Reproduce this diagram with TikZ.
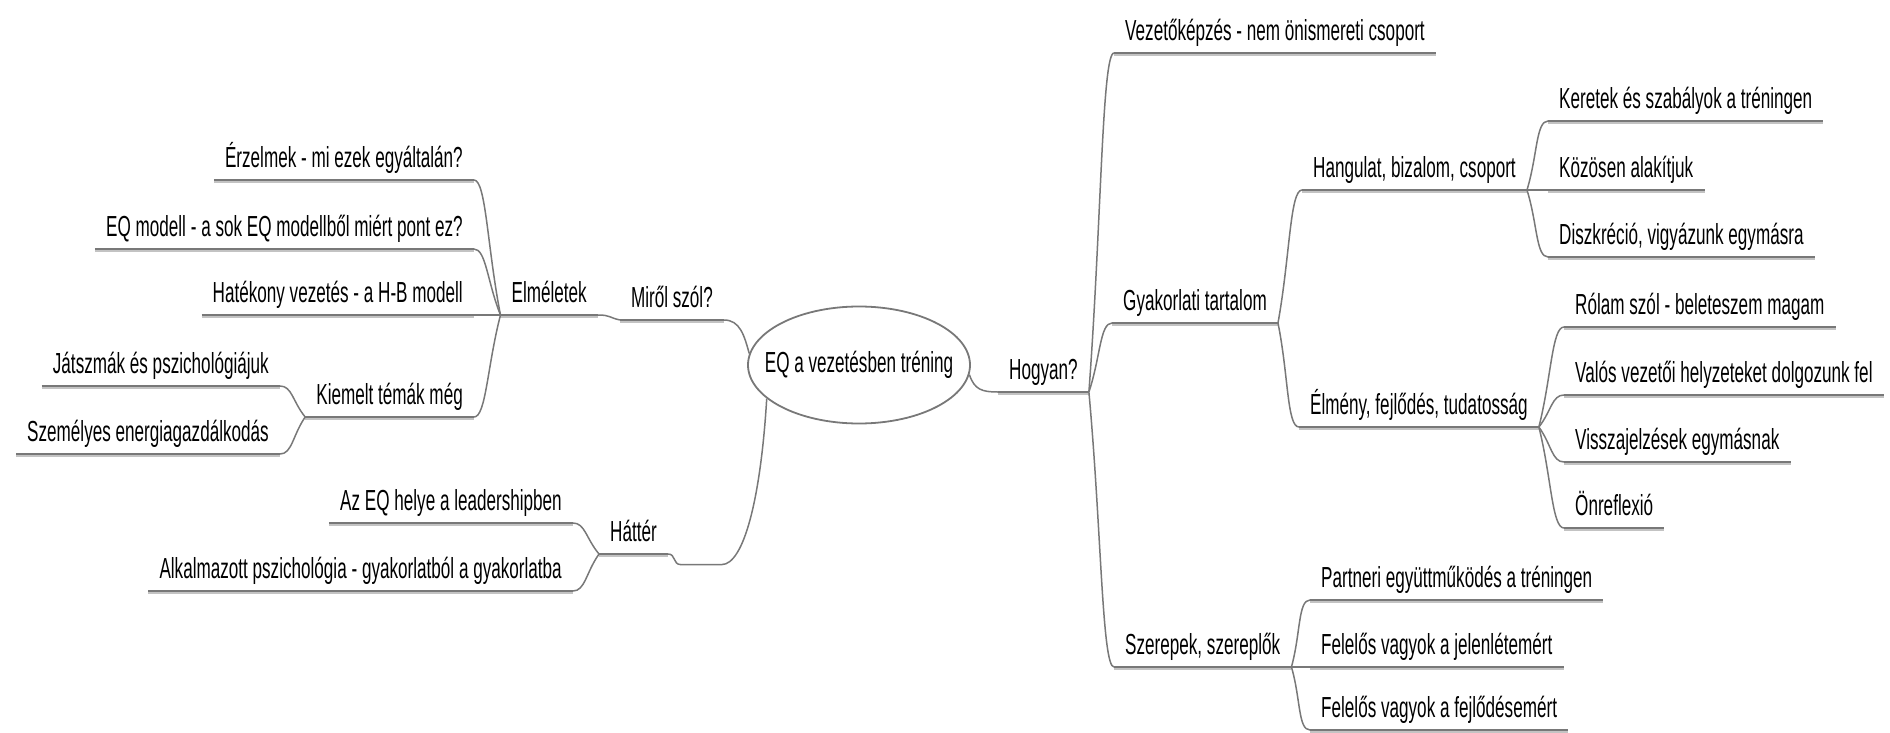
\documentclass[tikz,border=0pt]{standalone}
\usepackage{fontspec}
\setmainfont[FakeStretch=0.59]{Liberation Sans}
\usetikzlibrary{shapes.geometric,calc}
\definecolor{mapgray}{RGB}{120,120,120}
\definecolor{mapshade}{RGB}{195,195,195}

\begin{document}
\begin{tikzpicture}[x=1pt,y=-1pt,
    topic/.style={inner xsep=11pt, inner ysep=6.5pt, text height=21pt, text depth=6pt,
        font=\fontsize{29}{33}\selectfont},
    rtopic/.style={topic, anchor=south west},
    ltopic/.style={topic, anchor=south east},
    conn/.style={draw=mapgray, line width=1.5pt},
    rbr/.style={to path={.. controls ($(\tikztostart)!0.5!(\tikztotarget)$)
        and ($(\tikztotarget)+(-12,0)$) .. (\tikztotarget)}},
    lbr/.style={to path={.. controls ($(\tikztostart)!0.5!(\tikztotarget)$)
        and ($(\tikztotarget)+(12,0)$) .. (\tikztotarget)}},
    ]
    \useasboundingbox (0,0) rectangle (1890,733);

    % centre
    \node[draw=mapgray, line width=1.8pt, ellipse, minimum width=222pt, minimum height=117pt,
        inner xsep=-35pt, inner ysep=0pt, text height=21pt, text depth=6pt,
        font=\fontsize{29}{33}\selectfont] (root) at (859,365) {EQ a vezetésben tréning};

    % right side
    \node[rtopic] (hogyan) at (998,392) {Hogyan?};
    \node[rtopic] (vezeto) at (1114,53) {Vezetőképzés - nem önismereti csoport};
    \node[rtopic] (gyak) at (1112,323) {Gyakorlati tartalom};
    \node[rtopic] (szerep) at (1114,667) {Szerepek, szereplők};
    \node[rtopic] (hangulat) at (1302,190) {Hangulat, bizalom, csoport};
    \node[rtopic] (elmeny) at (1299,427) {Élmény, fejlődés, tudatosság};
    \node[rtopic] (keretek) at (1548,121) {Keretek és szabályok a tréningen};
    \node[rtopic] (kozosen) at (1548,190) {Közösen alakítjuk};
    \node[rtopic] (diszkr) at (1548,257) {Diszkréció, vigyázunk egymásra};
    \node[rtopic] (rolam) at (1564,327) {Rólam szól - beleteszem magam};
    \node[rtopic] (valos) at (1564,395) {Valós vezetői helyzeteket dolgozunk fel};
    \node[rtopic] (vissza) at (1564,462) {Visszajelzések egymásnak};
    \node[rtopic] (onrefl) at (1564,528) {Önreflexió};
    \node[rtopic] (partner) at (1310,600) {Partneri együttműködés a tréningen};
    \node[rtopic] (jelen) at (1310,667) {Felelős vagyok a jelenlétemért};
    \node[rtopic] (fejl) at (1310,730) {Felelős vagyok a fejlődésemért};

    % left side
    \node[ltopic] (mirol) at (724,320) {Miről szól?};
    \node[ltopic] (elm) at (598,315) {Elméletek};
    \node[ltopic] (erz) at (474,180) {Érzelmek - mi ezek egyáltalán?};
    \node[ltopic] (eqmod) at (474,249) {EQ modell - a sok EQ modellből miért pont ez?};
    \node[ltopic] (hatek) at (474,315) {Hatékony vezetés - a H-B modell};
    \node[ltopic] (kiem) at (474,417) {Kiemelt témák még};
    \node[ltopic] (jatsz) at (280,386) {Játszmák és pszichológiájuk};
    \node[ltopic] (szemely) at (280,454) {Személyes energiagazdálkodás};
    \node[ltopic] (hatter) at (668,554) {Háttér};
    \node[ltopic] (azeq) at (573,523) {Az EQ helye a leadershipben};
    \node[ltopic] (alkalm) at (573,591) {Alkalmazott pszichológia - gyakorlatból a gyakorlatba};

    % underlines
    \foreach \t in {hogyan,vezeto,gyak,szerep,hangulat,elmeny,keretek,kozosen,diszkr,
        rolam,valos,vissza,onrefl,partner,jelen,fejl,
        mirol,elm,erz,eqmod,hatek,kiem,jatsz,szemely,hatter,azeq,alkalm} {
        \draw[mapshade, line width=1.6pt] ([yshift=-1.8pt]\t.south west) -- ([yshift=-1.8pt]\t.south east);
        \draw[mapgray, line width=2.2pt] (\t.south west) -- (\t.south east);
    }

    % branches from the centre
    \draw[conn] (root.174) .. controls +(-5,-18) and +(16,0) .. (mirol.south east);
    \draw[conn] (root.-5) .. controls +(5,15) and +(-16,0) .. (hogyan.south west);
    \draw[conn] (root.200) .. controls +(-6,100) and +(22,0) .. ++(-45,166) -- ++(-41,0)
        .. controls +(-8,0) and +(8,0) .. (hatter.south east);

    \foreach \a/\b in {hogyan/vezeto,hogyan/gyak,hogyan/szerep,gyak/hangulat,gyak/elmeny,
        hangulat/keretek,hangulat/kozosen,hangulat/diszkr,elmeny/rolam,elmeny/valos,
        elmeny/vissza,elmeny/onrefl,szerep/partner,szerep/jelen,szerep/fejl}
        \draw[conn] (\a.south east) to[rbr] (\b.south west);
    \foreach \a/\b in {mirol/elm,elm/erz,elm/eqmod,elm/hatek,elm/kiem,kiem/jatsz,
        kiem/szemely,hatter/azeq,hatter/alkalm}
        \draw[conn] (\a.south west) to[lbr] (\b.south east);
\end{tikzpicture}
\end{document}
